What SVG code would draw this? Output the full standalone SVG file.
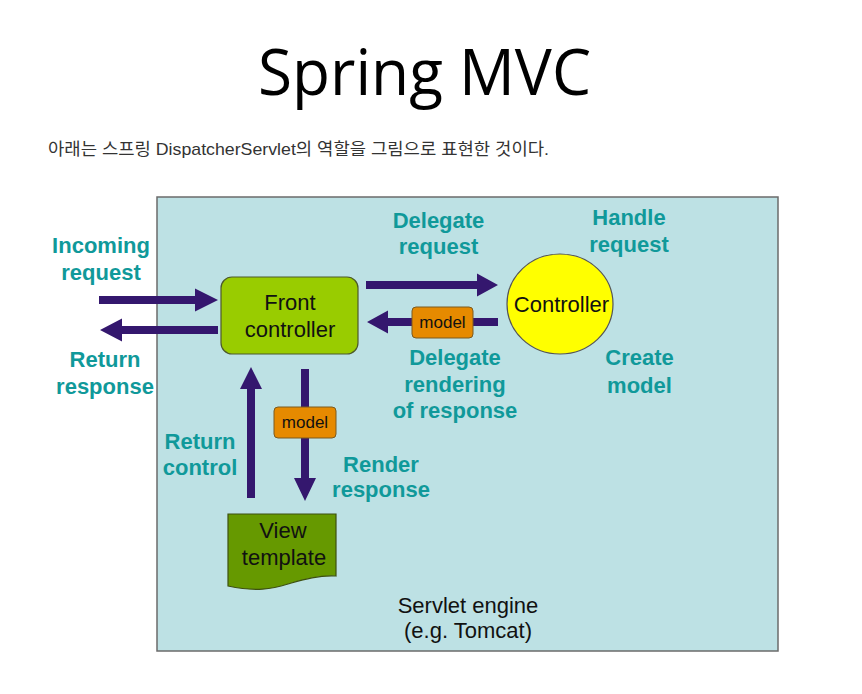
<svg xmlns="http://www.w3.org/2000/svg" width="862" height="694" viewBox="0 0 862 694">
<defs>
<style>
.lbl{font-family:"Liberation Sans",Arial,sans-serif;font-weight:bold;font-size:22px;fill:#10999a;text-anchor:middle}
.txt{font-family:"Liberation Sans",Arial,sans-serif;font-size:22px;fill:#111;text-anchor:middle}
.mdl{font-family:"Liberation Sans",Arial,sans-serif;font-size:17px;fill:#111;text-anchor:middle}
.arr{fill:#34176e}
.mbox{fill:#e68a00;stroke:#7a5a20;stroke-width:1}
</style>
</defs>
<rect width="862" height="694" fill="#ffffff"/>
<text x="424.5" y="95" font-family="'Open Sans','Noto Sans',sans-serif" font-size="64" fill="#000" text-anchor="middle" textLength="333" lengthAdjust="spacingAndGlyphs">Spring MVC</text>
<text x="48" y="155" font-family="'Liberation Sans','Noto Sans CJK KR',sans-serif" font-size="17" fill="#333" textLength="501" lengthAdjust="spacingAndGlyphs">아래는 스프링 DispatcherServlet의 역할을 그림으로 표현한 것이다.</text>

<g id="engine">
<rect x="157" y="197" width="621" height="454" fill="#bde1e4" stroke="#6b6b6b" stroke-width="1.5"/>
<text class="txt" x="468" y="613" fill="#222">Servlet engine</text>
<text class="txt" x="468" y="638" fill="#222">(e.g. Tomcat)</text>
</g>

<g id="connectors">
<polygon class="arr" points="99,296 195,296 195,288.5 218,300 195,311.5 195,304 99,304"/>
<polygon class="arr" points="218,326 122,326 122,318.5 100,330 122,341.5 122,334 218,334"/>
<polygon class="arr" points="366,281 477,281 477,273.5 498,285 477,296.5 477,289 366,289"/>
<polygon class="arr" points="498,318 388,318 388,310.5 367,322 388,333.5 388,326 498,326"/>
<polygon class="arr" points="247,498 247,389 240,389 251,367 262,389 255,389 255,498"/>
<polygon class="arr" points="301,369 309,369 309,478 316,478 305,501 294,478 301,478"/>
</g>

<g id="front-controller">
<rect x="221" y="277" width="137" height="77" rx="11" fill="#99cc00" stroke="#4d5a2a" stroke-width="1.2"/>
<text class="txt" x="290" y="310">Front</text>
<text class="txt" x="290" y="337">controller</text>
</g>

<g id="controller">
<ellipse cx="560" cy="304" rx="53" ry="50" fill="#ffff00" stroke="#555" stroke-width="1.2"/>
<text class="txt" x="561.5" y="312">Controller</text>
</g>

<g id="model-1">
<rect class="mbox" x="412" y="307" width="61" height="31" rx="4"/>
<text class="mdl" x="442.5" y="328">model</text>
</g>

<g id="model-2">
<rect class="mbox" x="274" y="407" width="62" height="31" rx="4"/>
<text class="mdl" x="305" y="428">model</text>
</g>

<g id="view-template">
<path d="M228,514 H336 V576 C318,575 302,580 288,584 C272,589 256,592 228,586 Z" fill="#669900" stroke="#3d5010" stroke-width="1.2"/>
<text class="txt" x="283" y="538">View</text>
<text class="txt" x="284" y="565">template</text>
</g>

<g id="labels">
<text class="lbl" x="101" y="253">Incoming</text>
<text class="lbl" x="101" y="280">request</text>
<text class="lbl" x="105" y="367">Return</text>
<text class="lbl" x="105" y="394">response</text>
<text class="lbl" x="438.5" y="228">Delegate</text>
<text class="lbl" x="438.5" y="254">request</text>
<text class="lbl" x="629" y="225">Handle</text>
<text class="lbl" x="629" y="252">request</text>
<text class="lbl" x="639.5" y="365">Create</text>
<text class="lbl" x="639.5" y="393">model</text>
<text class="lbl" x="455" y="365">Delegate</text>
<text class="lbl" x="455" y="392">rendering</text>
<text class="lbl" x="455" y="418">of response</text>
<text class="lbl" x="200" y="449">Return</text>
<text class="lbl" x="200" y="475">control</text>
<text class="lbl" x="381" y="472">Render</text>
<text class="lbl" x="381" y="497">response</text>
</g>
</svg>
